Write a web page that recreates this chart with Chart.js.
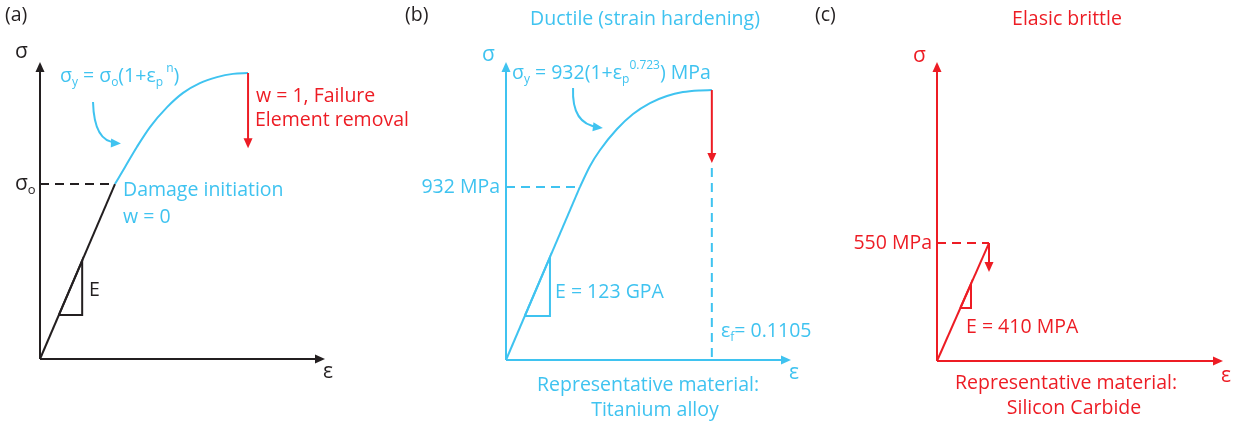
<!DOCTYPE html>
<html>
<head>
<meta charset="utf-8">
<script src="https://cdn.jsdelivr.net/npm/chart.js@4"></script>
<style>
  html, body { margin: 0; padding: 0; background: #fff; }
  #wrap { position: relative; width: 1238px; height: 427px; }
  .panel { position: absolute; left: 0; top: 0; width: 1238px; height: 427px; }
</style>
</head>
<body>
<div id="wrap">
  <div class="panel"><canvas id="chartA"></canvas></div>
  <div class="panel"><canvas id="chartB"></canvas></div>
  <div class="panel"><canvas id="chartC"></canvas></div>
</div>
<script>
const BLUE = '#3fc3f0';
const RED = '#ed1c24';
const BLACK = '#231f20';
const FONT = '"Open Sans", sans-serif';
const FS = 19.5;

// ---- (a) generic damage model, normalised axes ----
const aElasticStrain = [0, 0.263];
const aElasticStress = [0, 0.589];
const aHardenStrain = [0.263, 0.298, 0.340, 0.386, 0.446, 0.502, 0.561, 0.621, 0.677, 0.730];
const aHardenStress = [0.589, 0.646, 0.714, 0.781, 0.848, 0.896, 0.929, 0.949, 0.960, 0.963];
const aInitStress = 0.589;
const aFailStress = 0.710;
const aTriStrain = [0.066, 0.148, 0.148, 0.066];
const aTriStress = [0.148, 0.148, 0.331, 0.148];

// ---- (b) titanium alloy, strain / MPa ----
const bElasticStrain = [0, 0.0397];
const bElasticStress = [0, 932];
const bHardenStrain = [0.0397, 0.0451, 0.0505, 0.0596, 0.0682, 0.0773, 0.0864, 0.0950, 0.1042, 0.1105];
const bHardenStress = [932, 1045, 1131, 1244, 1325, 1384, 1422, 1443, 1452, 1454];
const bYield = 932;
const bFailStrain = 0.1105;
const bFailStress = 1061;
const bTriStrain = [0.0101, 0.0236, 0.0236, 0.0101];
const bTriStress = [237, 237, 554, 237];

// ---- (c) silicon carbide, strain / MPa ----
const cElasticStrain = [0, 0.00134];
const cElasticStress = [0, 550];
const cPeak = 550;
const cDropStress = 415;
const cTriStrain = [0.000602, 0.000876, 0.000876, 0.000602];
const cTriStress = [247, 247, 360, 247];

const zip = (xs, ys) => xs.map((x, i) => ({ x: x, y: ys[i] }));

function head(ctx, x, y, ang, len, half) {
  ctx.beginPath();
  ctx.moveTo(x, y);
  ctx.lineTo(x - len * Math.cos(ang) + half * Math.sin(ang), y - len * Math.sin(ang) - half * Math.cos(ang));
  ctx.lineTo(x - len * Math.cos(ang) - half * Math.sin(ang), y - len * Math.sin(ang) + half * Math.cos(ang));
  ctx.closePath();
  ctx.fill();
}

function arrow(ctx, x0, y0, x1, y1, color) {
  const ang = Math.atan2(y1 - y0, x1 - x0);
  ctx.strokeStyle = color; ctx.fillStyle = color; ctx.lineWidth = 2;
  ctx.beginPath();
  ctx.moveTo(x0, y0);
  ctx.lineTo(x1 - 7 * Math.cos(ang), y1 - 7 * Math.sin(ang));
  ctx.stroke();
  head(ctx, x1, y1, ang, 10, 4.5);
}

// rich text: parts are strings or {t, sub} / {t, sup}
function richText(ctx, parts, x, y, size, color, align) {
  const segs = (typeof parts === 'string' ? [parts] : parts).map(p => typeof p === 'string' ? { t: p } : p);
  const fontOf = s => (s.sub || s.sup ? Math.round(size * 0.62) : size) + 'px ' + FONT;
  let w = 0;
  segs.forEach(s => { ctx.font = fontOf(s); w += ctx.measureText(s.t).width; });
  let cx = align === 'center' ? x - w / 2 : align === 'right' ? x - w : x;
  ctx.fillStyle = color;
  ctx.textBaseline = 'middle';
  ctx.textAlign = 'left';
  segs.forEach(s => {
    ctx.font = fontOf(s);
    const dy = s.sub ? size * 0.32 : s.sup ? -size * 0.4 : 0;
    ctx.fillText(s.t, cx, y + dy);
    cx += ctx.measureText(s.t).width;
  });
}

const sketch = {
  id: 'sketch',
  afterDatasetsDraw(chart, args, opts) {
    const ctx = chart.ctx;
    const xs = chart.scales.x, ys = chart.scales.y;
    const px = v => xs.getPixelForValue(v), py = v => ys.getPixelForValue(v);
    ctx.save();
    // axes with arrow heads
    const ox = px(xs.min), oy = py(ys.min);
    arrow(ctx, ox, oy, px(xs.max), oy, opts.axisColor);
    arrow(ctx, ox, oy, ox, py(ys.max), opts.axisColor);
    (opts.arrows || []).forEach(a => arrow(ctx, px(a.x0), py(a.y0), px(a.x1), py(a.y1), a.color));
    (opts.curves || []).forEach(c => {
      const p0 = [px(c.p[0][0]), py(c.p[0][1])], p1 = [px(c.p[1][0]), py(c.p[1][1])], p2 = [px(c.p[2][0]), py(c.p[2][1])];
      ctx.strokeStyle = c.color; ctx.fillStyle = c.color; ctx.lineWidth = 2;
      ctx.beginPath();
      ctx.moveTo(p0[0], p0[1]);
      ctx.quadraticCurveTo(p1[0], p1[1], p2[0] - 5, p2[1] - 1);
      ctx.stroke();
      head(ctx, p2[0], p2[1], Math.atan2(p2[1] - p1[1], p2[0] - p1[0]), 10, 4.5);
    });
    (opts.texts || []).forEach(t => {
      const y = t.yv !== undefined ? py(t.yv) : t.y;
      richText(ctx, t.parts, t.x, y, t.size || FS, t.color, t.align || 'left');
    });
    ctx.restore();
  }
};

function line(data, color, extra) {
  return Object.assign({
    data: data, borderColor: color, borderWidth: 2, pointRadius: 0,
    showLine: true, fill: false, clip: false
  }, extra || {});
}

function makeChart(id, pad, xmax, ymax, datasets, sketchOpts) {
  return new Chart(document.getElementById(id), {
    type: 'scatter',
    data: { datasets: datasets },
    options: {
      responsive: true, maintainAspectRatio: false, animation: false, events: [],
      layout: { padding: pad },
      scales: {
        x: { type: 'linear', min: 0, max: xmax, display: false },
        y: { type: 'linear', min: 0, max: ymax, display: false }
      },
      plugins: { legend: { display: false }, tooltip: { enabled: false }, sketch: sketchOpts }
    },
    plugins: [sketch]
  });
}

const DASH = [9, 6];

// (a)
makeChart('chartA', { left: 40, right: 1238 - 325, top: 62, bottom: 427 - 359 }, 1, 1, [
  line([{ x: 0, y: aInitStress }, { x: aElasticStrain[1], y: aInitStress }], BLACK, { borderDash: DASH }),
  line(zip(aElasticStrain, aElasticStress), BLACK),
  line(zip(aTriStrain, aTriStress), BLACK),
  line(zip(aHardenStrain, aHardenStress), BLUE, { cubicInterpolationMode: 'monotone' })
], {
  axisColor: BLACK,
  arrows: [{ x0: aHardenStrain[9], y0: aHardenStress[9], x1: aHardenStrain[9], y1: aFailStress, color: RED }],
  curves: [{ p: [[0.186, 0.865], [0.19, 0.73], [0.284, 0.726]], color: BLUE }],
  texts: [
    { parts: '(a)', x: 5, y: 15, color: BLACK },
    { parts: 'σ', x: 15, y: 52, size: 21, color: BLACK },
    { parts: ['σ', { t: 'o', sub: true }], x: 15, yv: aInitStress, size: 21, color: BLACK },
    { parts: ['σ', { t: 'y', sub: true }, ' = σ', { t: 'o', sub: true }, '(1+ε', { t: 'p', sub: true }, { t: ' n', sup: true }, ')'], x: 60, y: 76, color: BLUE },
    { parts: 'w = 1, Failure', x: 256, y: 96, color: RED },
    { parts: 'Element removal', x: 255, y: 120, color: RED },
    { parts: 'Damage initiation', x: 123, y: 190, color: BLUE },
    { parts: 'w = 0', x: 123, y: 217, color: BLUE },
    { parts: 'E', x: 89, y: 290, color: BLACK },
    { parts: 'ε', x: 323, y: 372, size: 21, color: BLACK }
  ]
});

// (b)
makeChart('chartB', { left: 506, right: 1238 - 791, top: 62, bottom: 427 - 360 }, 0.153, 1605, [
  line([{ x: 0, y: bYield }, { x: bElasticStrain[1], y: bYield }], BLUE, { borderDash: DASH }),
  line([{ x: bFailStrain, y: bFailStress - 27 }, { x: bFailStrain, y: 0 }], BLUE, { borderDash: DASH }),
  line(zip(bElasticStrain, bElasticStress), BLUE),
  line(zip(bTriStrain, bTriStress), BLUE),
  line(zip(bHardenStrain, bHardenStress), BLUE, { cubicInterpolationMode: 'monotone' })
], {
  axisColor: BLUE,
  arrows: [{ x0: bFailStrain, y0: bHardenStress[9], x1: bFailStrain, y1: bFailStress, color: RED }],
  curves: [{ p: [[0.036, 1465], [0.0352, 1270], [0.052, 1250]], color: BLUE }],
  texts: [
    { parts: '(b)', x: 405, y: 15, color: BLACK },
    { parts: 'Ductile (strain hardening)', x: 645, y: 19, color: BLUE, align: 'center' },
    { parts: 'σ', x: 482, y: 55, size: 21, color: BLUE },
    { parts: ['σ', { t: 'y', sub: true }, ' = 932(1+ε', { t: 'p', sub: true }, { t: '0.723', sup: true }, ') MPa'], x: 512, y: 73, color: BLUE },
    { parts: '932 MPa', x: 500, yv: bYield, color: BLUE, align: 'right' },
    { parts: 'E = 123 GPA', x: 555, y: 292, color: BLUE },
    { parts: ['ε', { t: 'f', sub: true }, '= 0.1105'], x: 721, y: 331, color: BLUE },
    { parts: 'ε', x: 789, y: 373, size: 21, color: BLUE },
    { parts: 'Representative material:', x: 648, y: 385, color: BLUE, align: 'center' },
    { parts: 'Titanium alloy', x: 655, y: 410, color: BLUE, align: 'center' }
  ]
});

// (c)
makeChart('chartC', { left: 937, right: 1238 - 1223, top: 62, bottom: 427 - 361 }, 0.00737, 1394, [
  line([{ x: 0, y: cPeak }, { x: cElasticStrain[1], y: cPeak }], RED, { borderDash: DASH }),
  line(zip(cElasticStrain, cElasticStress), RED),
  line(zip(cTriStrain, cTriStress), RED)
], {
  axisColor: RED,
  arrows: [{ x0: cElasticStrain[1], y0: cPeak, x1: cElasticStrain[1], y1: cDropStress, color: RED }],
  texts: [
    { parts: '(c)', x: 815, y: 15, color: BLACK },
    { parts: 'Elasic brittle', x: 1067, y: 19, color: RED, align: 'center' },
    { parts: 'σ', x: 913, y: 56, size: 21, color: RED },
    { parts: '550 MPa', x: 932, yv: cPeak, color: RED, align: 'right' },
    { parts: 'E = 410 MPA', x: 966, y: 327, color: RED },
    { parts: 'ε', x: 1221, y: 376, size: 21, color: RED },
    { parts: 'Representative material:', x: 1066, y: 383, color: RED, align: 'center' },
    { parts: 'Silicon Carbide', x: 1074, y: 408, color: RED, align: 'center' }
  ]
});
</script>
</body>
</html>
